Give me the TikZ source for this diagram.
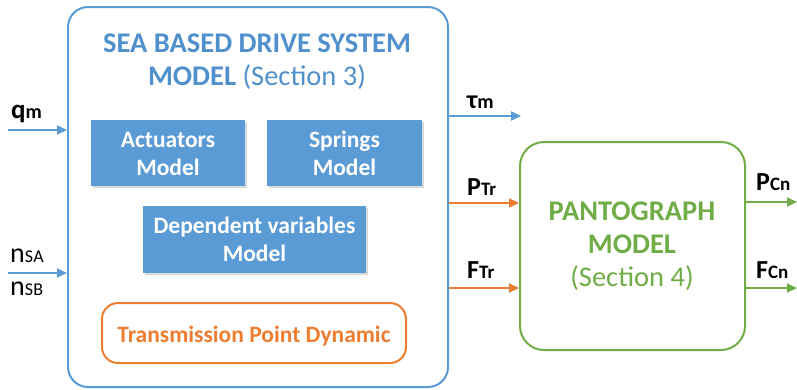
\documentclass[tikz,border=0pt]{standalone}
\usepackage{fontspec}
\setmainfont{Carlito}
\usetikzlibrary{arrows.meta,shadows}
\definecolor{cblue}{HTML}{5B9BD5}
\definecolor{ctitle}{HTML}{5090CC}
\definecolor{corange}{HTML}{ED7D31}
\definecolor{cgreen}{HTML}{70AD47}
\begin{document}
\begin{tikzpicture}[x=1pt,y=-1pt,
  bigbox/.style={draw=cblue,line width=2pt,rounded corners=20pt,minimum width=380pt,minimum height=380pt,inner sep=0pt},
  greenbox/.style={draw=cgreen,line width=2pt,rounded corners=24pt,minimum width=225pt,minimum height=208pt,inner sep=0pt},
  bluebox/.style={fill=cblue,inner sep=0pt,drop shadow={shadow xshift=1.5pt,shadow yshift=-1.5pt,opacity=0.3}},
  boxtxt/.style={text=white,font=\fontsize{23.5}{28}\selectfont\bfseries,inner sep=0pt,anchor=base},
  orbox/.style={draw=corange,line width=2pt,rounded corners=16pt,inner sep=0pt,minimum width=304pt,minimum height=60pt},
  ttl/.style={text=ctitle,font=\fontsize{28.5}{33}\selectfont,inner sep=0pt,anchor=base},
  gtl/.style={text=cgreen,font=\fontsize{28.5}{33}\selectfont,inner sep=0pt,anchor=base},
  arr/.style={line width=2pt,-{Triangle[length=10pt,width=9pt]}},
  lab/.style={font=\bfseries,inner sep=0pt,anchor=base west},
  big/.style={},
]
\useasboundingbox (0,0) rectangle (797,389);
\node[bigbox] (sea) at (258,197) {};
\node[ttl] (title1) at (257,52) {\bfseries SEA BASED DRIVE SYSTEM};
\node[ttl] (title2) at (257,85) {\textbf{MODEL} (Section 3)};
\node[bluebox,minimum width=154pt,minimum height=66pt] (act) at (168,153) {};
\node[boxtxt] (act1) at (act.center |- 0,147) {Actuators};
\node[boxtxt] (act2) at (act.center |- 0,175) {Model};
\node[bluebox,minimum width=155pt,minimum height=66pt] (spr) at (344.5,153) {};
\node[boxtxt] (spr1) at (spr.center |- 0,147) {Springs};
\node[boxtxt] (spr2) at (spr.center |- 0,175) {Model};
\node[bluebox,minimum width=223pt,minimum height=67pt] (dep) at (254.5,239.5) {};
\node[boxtxt] (dep1) at (dep.center |- 0,233) {Dependent variables};
\node[boxtxt] (dep2) at (dep.center |- 0,261) {Model};
\node[orbox] (tpd) at (254,333) {};
\node[boxtxt,text=corange] (tpdt) at (254,342) {Transmission Point Dynamic};
\node[greenbox] (pan) at (632.5,246) {};
\node[gtl] (pan1) at (632,220) {\bfseries PANTOGRAPH};
\node[gtl] (pan2) at (632,253) {\bfseries MODEL};
\node[gtl] (pan3) at (632,286) {(Section 4)};
% inputs
\coordinate (qs) at (8,130);
\draw[arr,cblue] (qs) -- (sea.west |- qs);
\node[lab] (ql) at (11,118) {\fontsize{27}{27}\selectfont q\fontsize{20}{20}\selectfont m};
\coordinate (ns) at (8,273);
\draw[arr,cblue] (ns) -- (sea.west |- ns);
\node[lab,font=\mdseries] (nsa) at (10,262) {\fontsize{28}{28}\selectfont n\fontsize{18}{18}\selectfont S\kern0.3pt A};
\node[lab,font=\mdseries] (nsb) at (10,295) {\fontsize{28}{28}\selectfont n\fontsize{18}{18}\selectfont S\kern0.3pt B};
% outputs of sea
\coordinate (te) at (521,116);
\draw[arr,cblue] (sea.east |- te) -- (te);
\node[lab] (tl) at (467,108) {\fontsize{26}{26}\selectfont τ\fontsize{20}{20}\selectfont m};
\coordinate (pt) at (0,203);
\draw[arr,corange] (sea.east |- pt) -- (pan.west |- pt);
\node[lab] (ptl) at (467,195) {\fontsize{26}{26}\selectfont P\fontsize{19}{19}\selectfont Tr};
\coordinate (ft) at (0,288);
\draw[arr,corange] (sea.east |- ft) -- (pan.west |- ft);
\node[lab] (ftl) at (467,278) {\fontsize{26}{26}\selectfont F\fontsize{19}{19}\selectfont Tr};
% outputs of pantograph
\coordinate (pc) at (797,202);
\draw[arr,cgreen] (pan.east |- pc) -- (pc);
\node[lab] (pcl) at (756,190) {\fontsize{26}{26}\selectfont P\fontsize{19}{19}\selectfont Cn};
\coordinate (fc) at (797,288);
\draw[arr,cgreen] (pan.east |- fc) -- (fc);
\node[lab] (fcl) at (756,278) {\fontsize{26}{26}\selectfont F\fontsize{19}{19}\selectfont Cn};
\end{tikzpicture}
\end{document}
